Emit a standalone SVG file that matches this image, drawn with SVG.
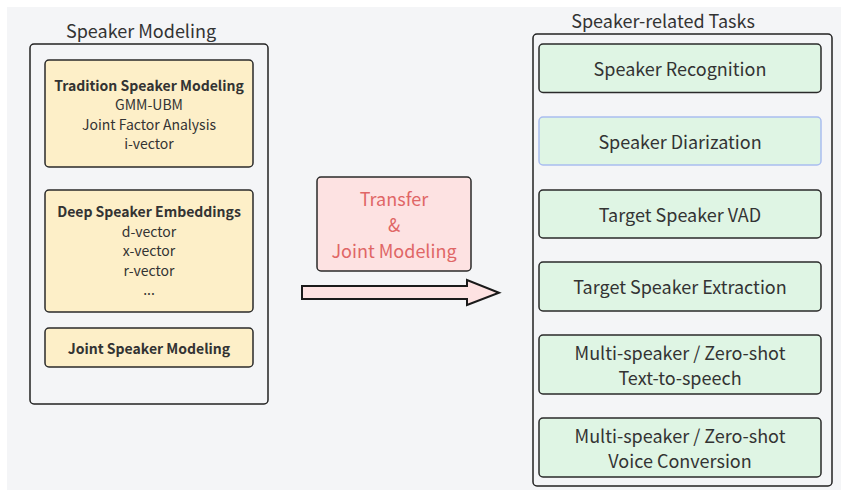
<svg xmlns="http://www.w3.org/2000/svg" width="848" height="490" viewBox="0 0 848 490">
  <style>
    text { font-family: "Noto Sans CJK SC", "Noto Sans", "Liberation Sans", sans-serif; fill: #333333; text-anchor: middle; }
    .frame { fill: none; stroke: #222222; stroke-width: 1.5; }
    .yellow { fill: #fdefc8; stroke: #2a2a2a; stroke-width: 1.5; }
    .green { fill: #dff5e4; stroke: #2a2a2a; stroke-width: 1.5; }
    .green-sel { fill: #dff5e4; stroke: #a9bdf0; stroke-width: 1.5; }
    .pink { fill: #fde2e2; stroke: #2a2a2a; stroke-width: 1.5; }
    .title { font-size: 18px; }
    .head { font-size: 14px; font-weight: bold; }
    .item { font-size: 14px; }
    .task { font-size: 18px; }
    .red { font-size: 18px; fill: #e06666; }
  </style>

  <rect x="7" y="7" width="834" height="483" fill="#f4f5f7"/>

  <!-- Left panel: speaker modeling -->
  <g id="speaker-modeling">
    <text class="title" x="141" y="38">Speaker Modeling</text>
    <rect class="frame" x="30" y="44" width="238" height="360" rx="4"/>
  </g>
  <g id="tradition">
    <rect class="yellow" x="45" y="60" width="208" height="107" rx="4"/>
    <text class="head" x="149" y="91">Tradition Speaker Modeling</text>
    <text class="item" x="149" y="110">GMM-UBM</text>
    <text class="item" x="149" y="130">Joint Factor Analysis</text>
    <text class="item" x="149" y="149">i-vector</text>
  </g>
  <g id="deep-embeddings">
    <rect class="yellow" x="45" y="190" width="208" height="122" rx="4"/>
    <text class="head" x="149" y="217">Deep Speaker Embeddings</text>
    <text class="item" x="149" y="237">d-vector</text>
    <text class="item" x="149" y="256">x-vector</text>
    <text class="item" x="149" y="276">r-vector</text>
    <text class="item" x="149" y="295">...</text>
  </g>
  <g id="joint-modeling">
    <rect class="yellow" x="45" y="328" width="208" height="39" rx="4"/>
    <text class="head" x="149" y="354">Joint Speaker Modeling</text>
  </g>

  <!-- Middle: transfer label -->
  <g id="transfer">
    <rect class="pink" x="317" y="177" width="154" height="94" rx="4"/>
    <text class="red" x="394" y="206">Transfer</text>
    <text class="red" x="394" y="232">&amp;</text>
    <text class="red" x="394" y="258">Joint Modeling</text>
  </g>

  <!-- Connectors -->
  <g id="connectors">
    <path d="M302,286 L467,286 L467,280 L499,292.7 L467,305 L467,299 L302,299 Z" fill="#fde2e2" stroke="#1a1a1a" stroke-width="2" stroke-linejoin="miter"/>
  </g>

  <!-- Right panel: speaker-related tasks -->
  <g id="speaker-tasks">
    <text class="title" x="663" y="28">Speaker-related Tasks</text>
    <rect class="frame" x="533" y="34" width="299" height="452" rx="4"/>
  </g>
  <g id="recognition">
    <rect class="green" x="539" y="44" width="282" height="48.5" rx="4"/>
    <text class="task" x="680" y="76">Speaker Recognition</text>
  </g>
  <g id="diarization">
    <rect class="green-sel" x="539" y="117" width="282" height="48" rx="4"/>
    <text class="task" x="680" y="148.5">Speaker Diarization</text>
  </g>
  <g id="ts-vad">
    <rect class="green" x="539" y="190" width="282" height="48" rx="4"/>
    <text class="task" x="680" y="221.5">Target Speaker VAD</text>
  </g>
  <g id="ts-extraction">
    <rect class="green" x="539" y="262" width="282" height="49" rx="4"/>
    <text class="task" x="680" y="293.5">Target Speaker Extraction</text>
  </g>
  <g id="tts">
    <rect class="green" x="539" y="335" width="282" height="59" rx="4"/>
    <text class="task" x="680" y="359.5">Multi-speaker / Zero-shot</text>
    <text class="task" x="680" y="385">Text-to-speech</text>
  </g>
  <g id="vc">
    <rect class="green" x="539" y="418" width="282" height="59" rx="4"/>
    <text class="task" x="680" y="443">Multi-speaker / Zero-shot</text>
    <text class="task" x="680" y="468">Voice Conversion</text>
  </g>
</svg>
